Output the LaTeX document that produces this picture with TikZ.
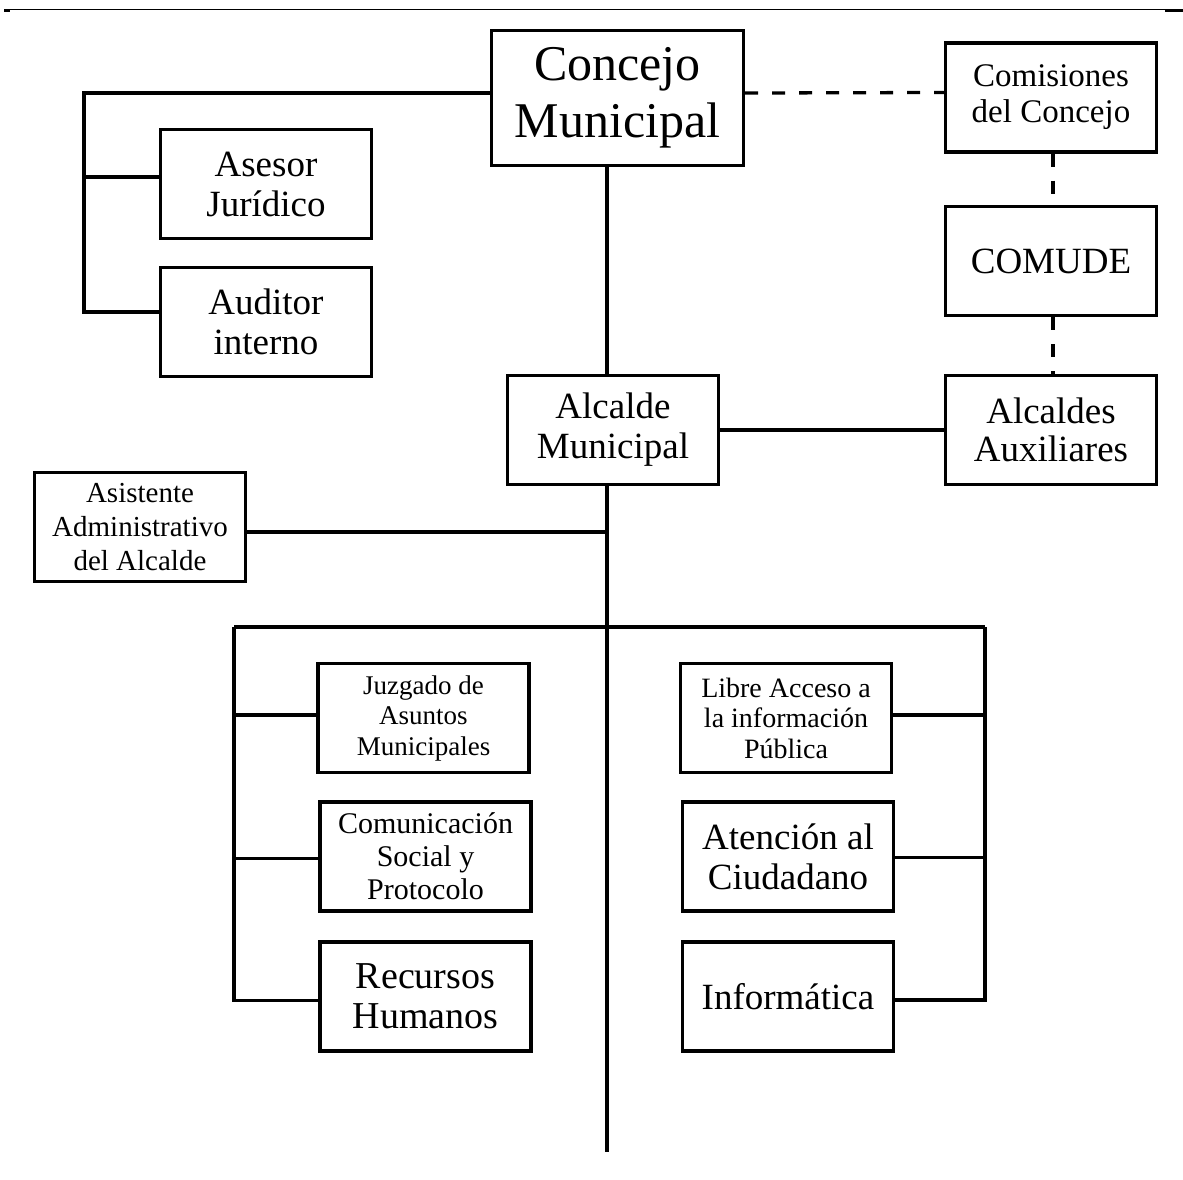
\documentclass[tikz,border=0pt]{standalone}
\usepackage{fontspec}
\setmainfont{Liberation Serif}
\tikzset{
  unit/.style={draw,line width=3.3pt,minimum width=211pt,minimum height=109pt,inner sep=0pt,align=center},
  link/.style={line width=3.3pt},
  dashlink/.style={line width=3.3pt,dash pattern=on 13pt off 14pt},
}
\begin{document}
\begin{tikzpicture}[x=1pt,y=-1pt]
\useasboundingbox (0,0) rectangle (1183,1179);
% Header rule
\draw[line width=1pt] (4,9.5) -- (1178,9.5);
\fill (4,8.5) rectangle (10,12);
\fill (1165,8.5) rectangle (1183,12);

% Council and its advisers
\node[unit,minimum width=252pt,minimum height=135pt,font=\fontsize{50}{57}\selectfont] (concejo) at (617.5,98) {Concejo\\Municipal};
\node[unit,font=\fontsize{37}{40}\selectfont] (asesor) at (266,184) {Asesor\\Jurídico};
\node[unit,font=\fontsize{37}{40}\selectfont] (auditor) at (266,322) {Auditor\\interno};

% Right column
\node[unit,font=\fontsize{33}{36}\selectfont] (comisiones) at (1051,97.5) {Comisiones\\del Concejo};
\node[unit,font=\fontsize{37}{40}\selectfont] (comude) at (1051,261) {COMUDE};
\node[unit,font=\fontsize{37}{38}\selectfont] (auxiliares) at (1051,430) {Alcaldes\\Auxiliares};

% Mayor
\node[unit,font=\fontsize{37}{40}\selectfont] (alcalde) at (613,430) {Alcalde\\Municipal};
\node[unit,font=\fontsize{29}{34}\selectfont] (asistente) at (140,527) {Asistente\\Administrativo\\del Alcalde};

% Offices, left
\node[unit,font=\fontsize{27}{30.5}\selectfont] (juzgado) at (423.5,718) {Juzgado de\\Asuntos\\Municipales};
\node[unit,font=\fontsize{30}{33}\selectfont] (comunicacion) at (425.5,856.5) {Comunicación\\Social y\\Protocolo};
\node[unit,font=\fontsize{38}{40}\selectfont] (recursos) at (425.5,996.5) {Recursos\\Humanos};

% Offices, right
\node[unit,font=\fontsize{28}{30.5}\selectfont] (libre) at (786,718) {Libre Acceso a\\la información\\Pública};
\node[unit,font=\fontsize{37}{40}\selectfont] (atencion) at (788,856.5) {Atención al\\Ciudadano};
\node[unit,font=\fontsize{37}{40}\selectfont] (informatica) at (788,996.5) {Informática};

% Helper points
\coordinate (ltop) at (84,93);
\coordinate (spine) at (607,1152);
\coordinate (lbus) at (234,627);
\coordinate (rbus) at (985,627);

% Solid links
\draw[link] ([yshift=5pt]concejo.west) -- (ltop) |- ([yshift=10pt]auditor.west);
\draw[link] ([yshift=7pt]asesor.west) -- ([yshift=7pt]asesor.west -| ltop);
\draw[link] (concejo.south -| spine) -- (alcalde.north -| spine);
\draw[link] (alcalde.south -| spine) -- (spine);
\draw[link] (alcalde.east) -- (auxiliares.west);
\draw[link] ([yshift=-5pt]asistente.east) -- ([yshift=-5pt]asistente.east -| spine);
\draw[link] (lbus) -- (rbus);
\draw[link] (lbus) |- ([yshift=-4pt]recursos.west);
\draw[link] (rbus) |- ([yshift=-3.5pt]informatica.east);
\draw[link] ([yshift=3pt]juzgado.west) -- ([yshift=3pt]juzgado.west -| lbus);
\draw[link] ([yshift=-2pt]comunicacion.west) -- ([yshift=-2pt]comunicacion.west -| lbus);
\draw[link] ([yshift=3pt]libre.east) -- ([yshift=3pt]libre.east -| rbus);
\draw[link] ([yshift=-1pt]atencion.east) -- ([yshift=-1pt]atencion.east -| rbus);

% Dashed links
\draw[dashlink] ([yshift=5pt]concejo.east) -- ([yshift=5pt]comisiones.west);
\draw[dashlink] ([xshift=2pt]comisiones.south) -- ([xshift=2pt]comude.north);
\draw[dashlink] ([xshift=2pt]comude.south) -- ([xshift=2pt]auxiliares.north);
\end{tikzpicture}
\end{document}
